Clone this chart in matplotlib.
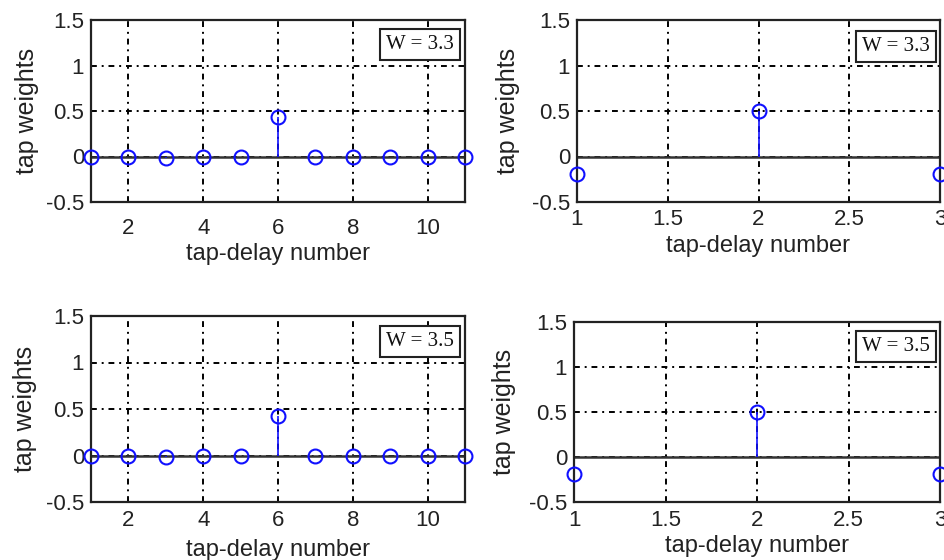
import numpy as np
import matplotlib

matplotlib.use("Agg")

import matplotlib.pyplot as plt

plt.rcParams["font.family"] = ["Liberation Sans", "DejaVu Sans"]

# tap weights, 11-tap equalizer (left) and 3-tap equalizer (right)
TAPS_11 = np.arange(1, 12)
W33_11 = [0.0, 0.0, -0.02, 0.0, 0.0, 0.43, 0.0, 0.0, 0.0, 0.0, 0.0]
W35_11 = [0.0, 0.0, -0.02, 0.0, 0.0, 0.43, 0.0, 0.0, 0.0, 0.0, 0.0]

TAPS_3 = [1, 2, 3]
W33_3 = [-0.19, 0.5, -0.19]
W35_3 = [-0.19, 0.5, -0.19]

Y_TICKS = [-0.5, 0, 0.5, 1, 1.5]
Y_TICK_LABELS = ["-0.5", "0", "0.5", "1", "1.5"]
X_TICKS_11 = [2, 4, 6, 8, 10]
X_TICK_LABELS_11 = ["2", "4", "6", "8", "10"]
X_TICKS_3 = [1, 1.5, 2, 2.5, 3]
X_TICK_LABELS_3 = ["1", "1.5", "2", "2.5", "3"]

W_PX, H_PX = 944, 560
BLUE = "#1010ff"
INK = "#222222"


def rect(left, right, top, bottom):
    return [left / W_PX, 1 - bottom / H_PX, (right - left) / W_PX, (bottom - top) / H_PX]


def panel(fig, box, taps, weights, label, xlim, xticks, xticklabels,
          tick_pad, xlabel_y, ylabel_x, wpos):
    ax = fig.add_axes(box)
    ax.set_xlim(*xlim)
    ax.set_ylim(-0.5, 1.5)
    ax.set_xticks(xticks)
    ax.set_xticklabels(xticklabels)
    ax.set_yticks(Y_TICKS)
    ax.set_yticklabels(Y_TICK_LABELS)
    ax.tick_params(length=0, labelsize=16, colors=INK)
    ax.tick_params(axis="x", pad=tick_pad)
    ax.tick_params(axis="y", pad=5)

    ax.grid(True, color="black", linewidth=1.4, linestyle=(0, (3, 2.5, 1, 2.5)))
    ax.set_axisbelow(True)
    for sp in ax.spines.values():
        sp.set_linewidth(1.6)
        sp.set_color(INK)

    # stems sit under the frame, markers on top of it
    ax.axhline(0, color="#333333", linewidth=1.8, zorder=2.1)
    ax.vlines(taps, 0, weights, color=BLUE, linewidth=1.2, zorder=2.2)
    ax.plot(taps, weights, linestyle="none", marker="o", markersize=10,
            markerfacecolor="none", markeredgecolor=BLUE, markeredgewidth=1.5,
            zorder=4, clip_on=False)

    ax.set_xlabel("tap-delay number", fontsize=17, color=INK)
    ax.set_ylabel("tap weights", fontsize=18, color=INK)
    ax.xaxis.label.set_va("center")
    ax.yaxis.label.set_va("center")
    ax.xaxis.set_label_coords(0.5, xlabel_y)
    ax.yaxis.set_label_coords(ylabel_x, 0.5)

    ax.text(wpos[0], wpos[1], label, transform=ax.transAxes, ha="right", va="top",
            fontsize=15, family="Liberation Serif", color="#111111", zorder=6,
            bbox=dict(boxstyle="square,pad=0.3", facecolor="white",
                      edgecolor=INK, linewidth=1.5))
    return ax


fig = plt.figure(figsize=(W_PX / 100, H_PX / 100), dpi=100)
fig.patch.set_facecolor("white")

panel(fig, rect(91, 465, 20, 202), TAPS_11, W33_11, "W = 3.3", (1, 11),
      X_TICKS_11, X_TICK_LABELS_11, 11.5, -0.286, -0.171, (0.971, 0.918))
panel(fig, rect(577, 940, 20, 202), TAPS_3, W33_3, "W = 3.3", (1, 3),
      X_TICKS_3, X_TICK_LABELS_3, 5, -0.242, -0.19, (0.972, 0.907))
panel(fig, rect(91, 465, 316, 502), TAPS_11, W35_11, "W = 3.5", (1, 11),
      X_TICKS_11, X_TICK_LABELS_11, 5.8, -0.258, -0.176, (0.971, 0.914))
panel(fig, rect(574, 940, 322, 502), TAPS_3, W35_3, "W = 3.5", (1, 3),
      X_TICKS_3, X_TICK_LABELS_3, 5.8, -0.244, -0.19, (0.972, 0.917))

fig.savefig("out.png", dpi=100)
